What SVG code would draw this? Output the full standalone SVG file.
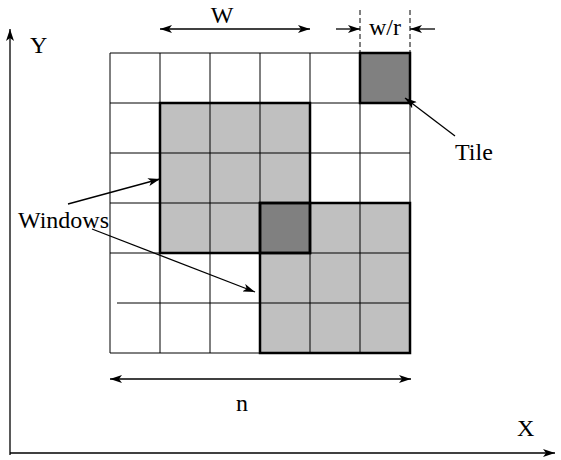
<svg xmlns="http://www.w3.org/2000/svg" width="561" height="460" viewBox="0 0 561 460">
<defs>
<marker id="ah" viewBox="0 0 12 8" refX="12" refY="4" markerWidth="12" markerHeight="8" markerUnits="userSpaceOnUse" orient="auto-start-reverse">
<path d="M0,0 L12,4 L0,8 L3,4 Z" fill="#000"/>
</marker>
</defs>
<style>
text{font-family:"Liberation Serif","Times New Roman",serif;font-size:24px;fill:#000}
.grid line{stroke:#000;stroke-width:1}
.thin{stroke:#000;stroke-width:1;fill:none}
.win{fill:none;stroke:#000;stroke-width:2.5}
.arr{stroke:#000;stroke-width:1.3;fill:none;marker-end:url(#ah)}
.dash{stroke:#000;stroke-width:1;stroke-dasharray:5,3}
</style>
<rect width="561" height="460" fill="#fff"/>
<g id="fills">
<rect x="160" y="103" width="150" height="150" fill="#c0c0c0"/>
<rect x="260" y="203" width="150" height="150" fill="#c0c0c0"/>
<rect x="360" y="53" width="50" height="50" fill="#808080"/>
<rect x="260" y="203" width="50" height="50" fill="#808080"/>
</g>
<g id="grid" class="grid">
<line x1="110" y1="53" x2="110" y2="353"/>
<line x1="160" y1="53" x2="160" y2="353"/>
<line x1="210" y1="53" x2="210" y2="353"/>
<line x1="260" y1="53" x2="260" y2="353"/>
<line x1="310" y1="53" x2="310" y2="353"/>
<line x1="360" y1="53" x2="360" y2="353"/>
<line x1="410" y1="53" x2="410" y2="353"/>
<line x1="110" y1="53" x2="410" y2="53"/>
<line x1="110" y1="103" x2="410" y2="103"/>
<line x1="110" y1="153" x2="410" y2="153"/>
<line x1="110" y1="203" x2="410" y2="203"/>
<line x1="110" y1="253" x2="410" y2="253"/>
<line x1="117" y1="303" x2="410" y2="303"/>
<line x1="110" y1="353" x2="410" y2="353"/>
</g>
<g id="windows">
<rect class="win" x="160" y="103" width="150" height="150"/>
<rect class="win" x="260" y="203" width="150" height="150"/>
</g>
<g id="tile">
<rect class="win" x="360" y="53" width="50" height="50"/>
<rect class="win" x="260" y="203" width="50" height="50"/>
</g>
<g id="connectors">
<line class="arr" x1="10" y1="455" x2="10" y2="29"/>
<line class="arr" x1="10" y1="453" x2="555" y2="453"/>
<line class="arr" x1="235" y1="29" x2="160" y2="29"/>
<line class="arr" x1="235" y1="29" x2="310" y2="29"/>
<line class="arr" x1="260" y1="379" x2="110" y2="379"/>
<line class="arr" x1="260" y1="379" x2="411" y2="379"/>
<line class="arr" x1="336" y1="29" x2="360" y2="29"/>
<line class="arr" x1="435" y1="29" x2="410" y2="29"/>
<line class="dash" x1="360" y1="10" x2="360" y2="53"/>
<line class="dash" x1="410" y1="10" x2="410" y2="53"/>
<line class="arr" x1="68" y1="204" x2="160" y2="179"/>
<line class="arr" x1="92" y1="229" x2="255" y2="292"/>
<line class="arr" x1="455" y1="136" x2="405" y2="98"/>
</g>
<g id="labels">
<text x="222" y="23" text-anchor="middle">W</text>
<text x="369" y="35">w/r</text>
<text x="30" y="53">Y</text>
<text x="455" y="160">Tile</text>
<text x="18" y="228">Windows</text>
<text x="236" y="411">n</text>
<text x="517" y="436">X</text>
</g>
</svg>
